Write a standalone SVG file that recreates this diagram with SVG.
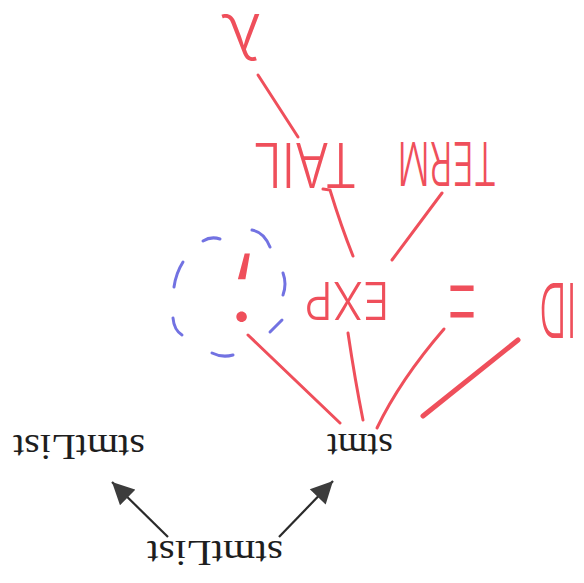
<svg xmlns="http://www.w3.org/2000/svg" width="584" height="583" viewBox="0 0 584 583">
<style>
.bg{fill:#ffffff}
.print{font-family:"Liberation Serif","Times New Roman",serif;font-size:36px;fill:#1e1e1e;text-anchor:middle}
.hand{font-family:Inter,"Open Sans","Liberation Sans",sans-serif;font-weight:300;fill:#ef4f5b;text-anchor:middle}
.arrow{stroke:#2a2a2a;stroke-width:2.2;fill:none}
.red{stroke:#ef4f5b;stroke-width:3;fill:none;stroke-linecap:round}
.blue{stroke:#7272e2;stroke-width:3;fill:none;stroke-linecap:round}
</style>
<defs>
<marker id="ah" viewBox="0 0 10 10" refX="10" refY="5" markerWidth="23" markerHeight="22" markerUnits="userSpaceOnUse" orient="auto">
<path d="M0,0 L10,5 L0,10 z" fill="#3c3c3c"/>
</marker>
</defs>
<rect class="bg" x="0" y="0" width="584" height="583"/>
<g id="connectors">
<line class="arrow" x1="168" y1="537" x2="112" y2="482" marker-end="url(#ah)"/>
<line class="arrow" x1="279" y1="537" x2="333" y2="481" marker-end="url(#ah)"/>
<path class="red" d="M258,75 L298,137"/>
<path class="red" d="M323,189 L330,190 Q341,226 353,256"/>
<path class="red" d="M442,193 L392,260"/>
<path class="red" d="M348,333 Q355,380 363,420"/>
<path class="red" d="M248,335 Q290,375 340,423"/>
<path class="red" d="M444,329 Q400,380 377,428"/>
<path class="red" style="stroke-width:5" d="M518,340 L423,416"/>
</g>
<g id="stmtList-root">
<text class="print" transform="rotate(180 215 541)" x="215" y="541" textLength="136" lengthAdjust="spacingAndGlyphs">stmtList</text>
</g>
<g id="stmtList-left">
<text class="print" transform="rotate(180 79 435)" x="79" y="435" textLength="132" lengthAdjust="spacingAndGlyphs">stmtList</text>
</g>
<g id="stmt">
<text class="print" transform="rotate(180 360 434)" x="360" y="434" textLength="66" lengthAdjust="spacingAndGlyphs">stmt</text>
</g>
<g id="ID">
<text class="hand" style="font-size:76px" transform="rotate(180 558 283)" x="558" y="283" textLength="37" lengthAdjust="spacingAndGlyphs">ID</text>
</g>
<g id="equals">
<text class="hand" style="font-size:132px;font-weight:200" transform="rotate(180 462 264)" x="462" y="264" textLength="40" lengthAdjust="spacingAndGlyphs">=</text>
</g>
<g id="EXP">
<text class="hand" style="font-size:52px" transform="rotate(180 347 282)" x="347" y="282" textLength="85" lengthAdjust="spacingAndGlyphs">EXP</text>
</g>
<g id="semicolon">
<text class="hand" style="font-size:100px" transform="rotate(180 242 270)" x="242" y="270">;</text>
<path class="blue" d="M203,241 Q211,236 220,239"/>
<path class="blue" d="M252,230 Q264,232 270,247"/>
<path class="blue" d="M283,273 Q287,284 283,295"/>
<path class="blue" d="M282,320 L270,332"/>
<path class="blue" d="M212,353 Q222,358 233,355"/>
<path class="blue" d="M173,318 Q174,330 182,335"/>
<path class="blue" d="M183,262 Q176,273 174,287"/>
</g>
<g id="TERM">
<text class="hand" style="font-size:60px" transform="rotate(180 447 142)" x="447" y="142" textLength="99" lengthAdjust="spacingAndGlyphs">TERM</text>
</g>
<g id="TAIL">
<text class="hand" style="font-size:62px" transform="rotate(180 305 143)" x="305" y="143" textLength="104" lengthAdjust="spacingAndGlyphs">TAIL</text>
</g>
<g id="lambda">
<text class="hand" style="font-size:64px" transform="rotate(180 241 14)" x="241" y="14">λ</text>
</g>
</svg>
